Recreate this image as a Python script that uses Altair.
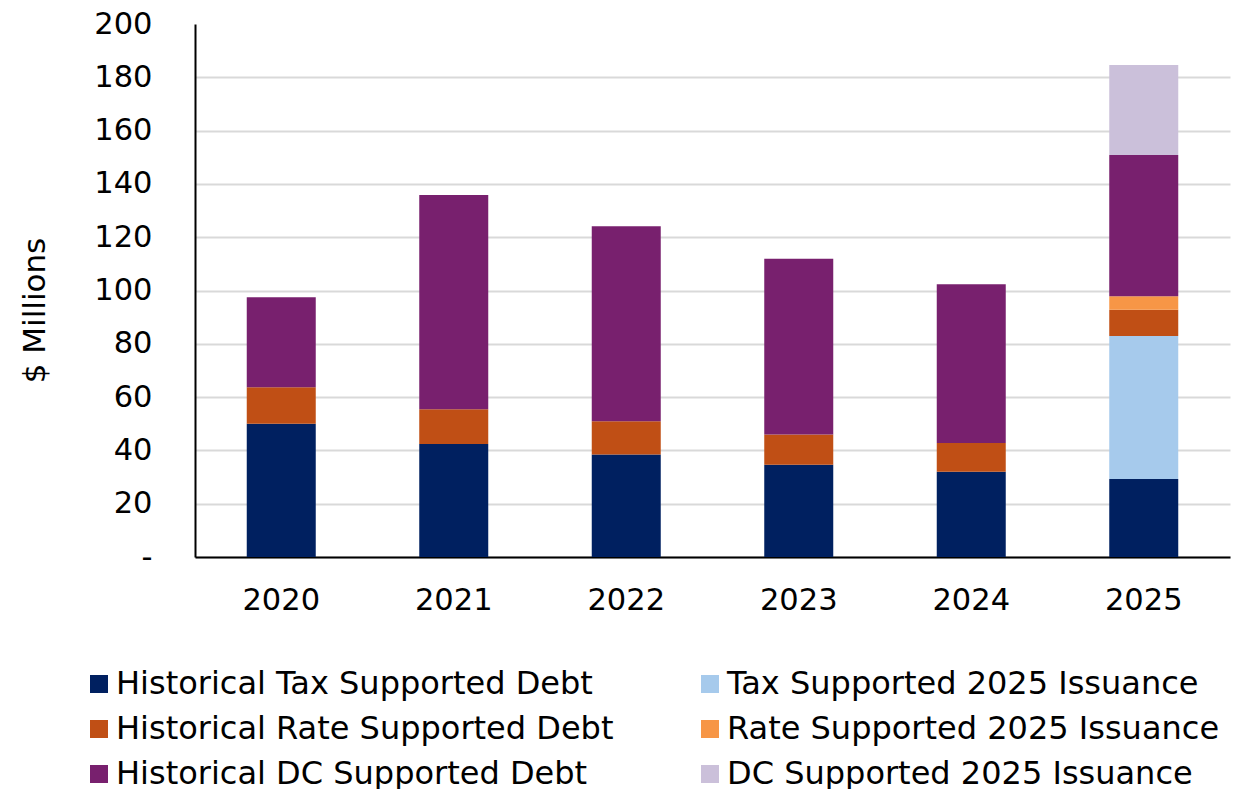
import altair as alt
import pandas as pd

years = ["2020", "2021", "2022", "2023", "2024", "2025"]
series = [
    "Historical Tax Supported Debt",
    "Tax Supported 2025 Issuance",
    "Historical Rate Supported Debt",
    "Rate Supported 2025 Issuance",
    "Historical DC Supported Debt",
    "DC Supported 2025 Issuance",
]
legend_order = [series[0], series[2], series[4], series[1], series[3], series[5]]
hist_tax = [50.0, 42.4, 38.5, 34.6, 32.0, 29.3]
tax_2025 = [0, 0, 0, 0, 0, 53.6]
hist_rate = [13.7, 13.0, 12.4, 11.4, 10.8, 9.9]
rate_2025 = [0, 0, 0, 0, 0, 5.0]
hist_dc = [33.8, 80.4, 73.2, 65.9, 59.5, 53.0]
dc_2025 = [0, 0, 0, 0, 0, 33.8]
color_map = {
    series[0]: "#002060",
    series[1]: "#A6CAEC",
    series[2]: "#C04F15",
    series[3]: "#F79646",
    series[4]: "#78206E",
    series[5]: "#CBC0DA",
}

values_by_series = [hist_tax, tax_2025, hist_rate, rate_2025, hist_dc, dc_2025]
rows = []
for i, (s, vals) in enumerate(zip(series, values_by_series)):
    for y, v in zip(years, vals):
        if v > 0:
            rows.append({"year": y, "series": s, "value": v, "idx": i})
df = pd.DataFrame(rows)

FONT = "DejaVu Sans"

chart = alt.Chart(df).mark_bar().encode(
    x=alt.X(
        "year:N",
        sort=years,
        scale=alt.Scale(paddingInner=0.6, paddingOuter=0.3),
        axis=alt.Axis(
            title=None, labelAngle=0, ticks=False, tickSize=0,
            labelFontSize=30.5, labelPadding=28, labelColor="black",
            domainColor="black", domainWidth=2, grid=False,
        ),
    ),
    y=alt.Y(
        "value:Q",
        stack="zero",
        scale=alt.Scale(domain=[0, 200], nice=False),
        axis=alt.Axis(
            values=list(range(0, 201, 20)),
            labelExpr="datum.value == 0 ? '-' : datum.label",
            title="$ Millions", titleFontSize=31, titleFontWeight="normal",
            titleColor="black", titleX=-160, titleY=286, titleAngle=270,
            titleAlign="center", titleBaseline="middle",
            ticks=False, tickSize=0, labelPadding=43, labelFontSize=30.5,
            labelColor="black", domainColor="black", domainWidth=2,
            gridColor="#D9D9D9", gridWidth=2,
            gridOpacity=alt.condition("datum.value >= 200", alt.value(0), alt.value(1)),
        ),
    ),
    color=alt.Color(
        "series:N",
        scale=alt.Scale(domain=legend_order, range=[color_map[s] for s in legend_order]),
        legend=alt.Legend(
            title=None, orient="none", legendX=-112, legendY=644,
            columns=2, columnPadding=80, rowPadding=13, padding=0,
            symbolType="square", symbolSize=324, symbolStrokeWidth=0,
            labelFontSize=32, labelOffset=1, labelLimit=0, labelColor="black",
        ),
    ),
    order=alt.Order("idx:Q"),
).properties(
    width=1035,
    height=533,
    autosize="none",
    padding={"left": 195, "top": 24, "right": 15, "bottom": 232},
).configure(font=FONT).configure_view(stroke=None)

chart.save("out.html", embed_options={"renderer": "svg", "actions": False})
